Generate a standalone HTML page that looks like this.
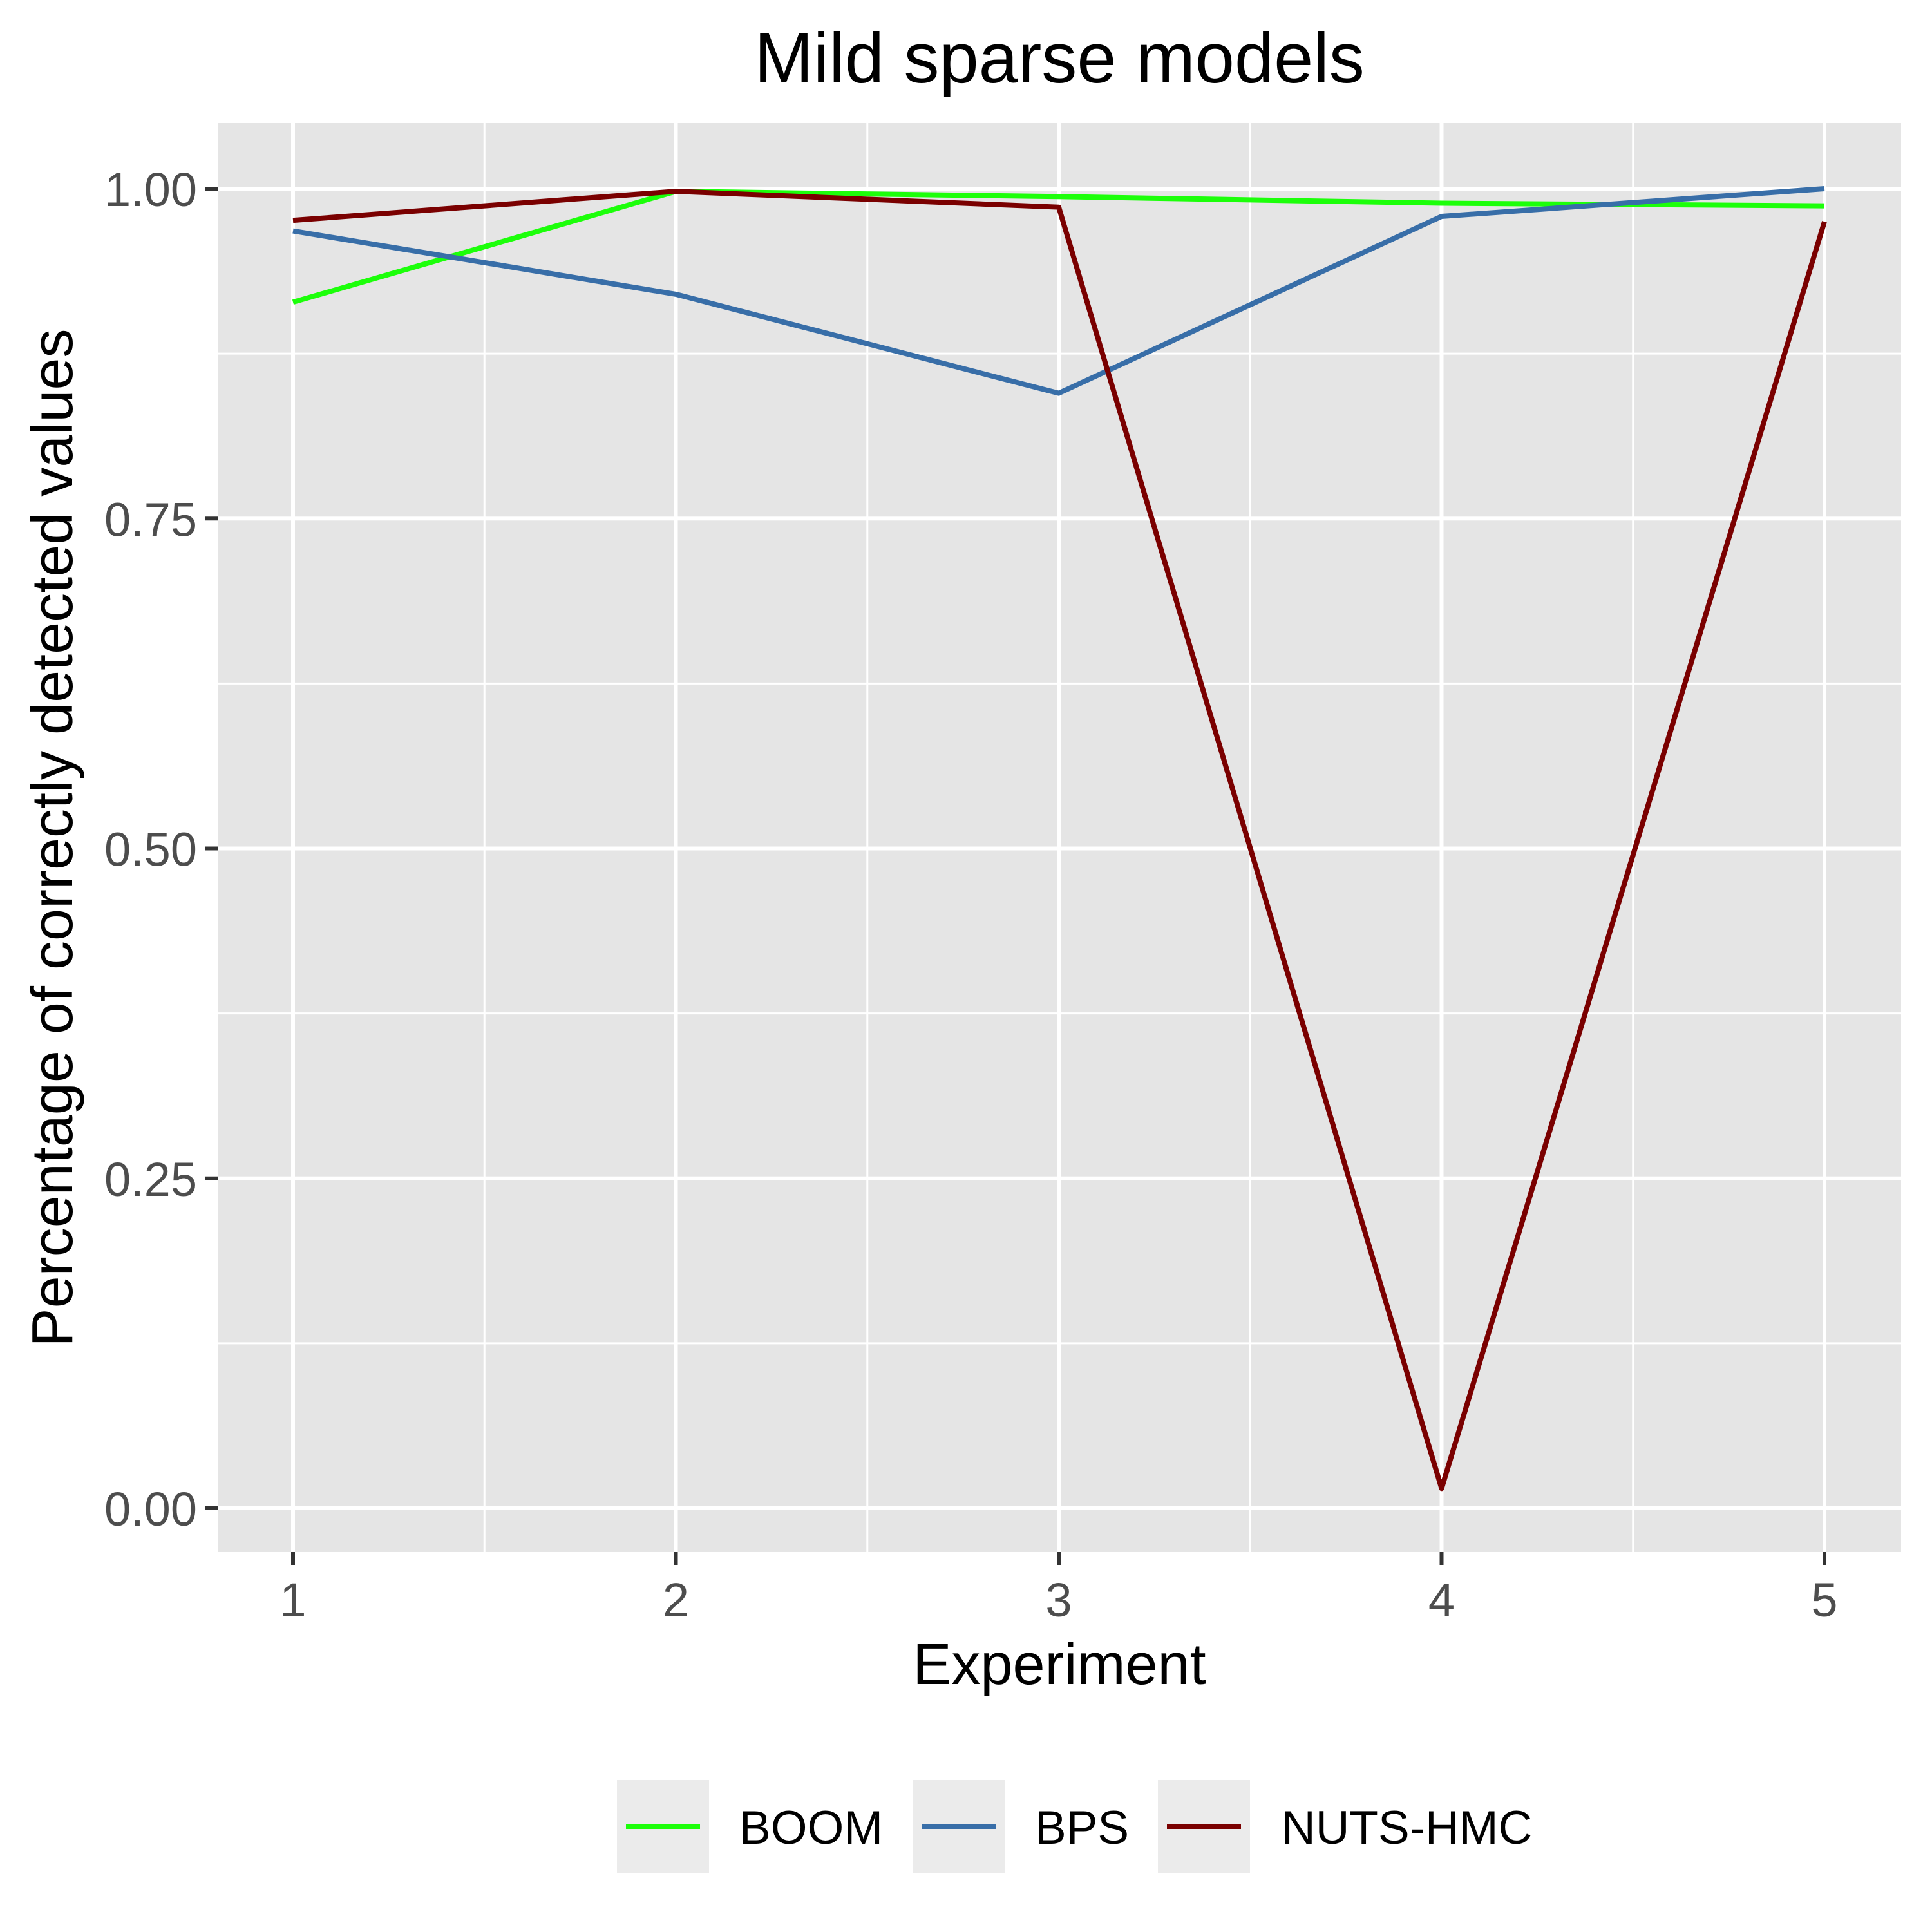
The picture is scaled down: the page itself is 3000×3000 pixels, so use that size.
<!DOCTYPE html>
<html><head><meta charset="utf-8"><style>html,body{margin:0;padding:0;background:#fff}svg{display:block}</style></head>
<body>
<svg id="chart" width="3000" height="3000" viewBox="0 0 3000 3000" xmlns="http://www.w3.org/2000/svg" font-family="Liberation Sans, Arial, sans-serif">
<rect width="3000" height="3000" fill="#fff"/>
<rect x="339" y="191" width="2613" height="2219" fill="#E5E5E5"/>
<g id="grid"></g>
<g id="series"></g>
<g id="axes"></g>
<text x="1645" y="128" font-size="110" text-anchor="middle" fill="#000">Mild sparse models</text>
<text x="1645" y="2615" font-size="90" text-anchor="middle" fill="#000">Experiment</text>
<text transform="translate(112,1301) rotate(-90)" font-size="90" text-anchor="middle" fill="#000">Percentage of correctly detected values</text>
<g id="legend"></g>
</svg>
<script>
const categories = [1, 2, 3, 4, 5];
const boomValues = [0.914, 0.998, 0.994, 0.989, 0.987];
const bpsValues = [0.968, 0.920, 0.845, 0.979, 1.000];
const nutsValues = [0.976, 0.998, 0.986, 0.015, 0.975];
const yTicks = [0, 0.25, 0.5, 0.75, 1.0];
const yTickLabels = ["0.00", "0.25", "0.50", "0.75", "1.00"];
const seriesNames = ["BOOM", "BPS", "NUTS-HMC"];

const NS = "http://www.w3.org/2000/svg";
const X0 = 455, X1 = 2833, Y0 = 2342, Y1 = 293;
const PL = 339, PR = 2952, PT = 191, PB = 2410;
function xs(v){ return X0 + (v - 1) * (X1 - X0) / 4; }
function ys(v){ return Y0 + v * (Y1 - Y0); }
function mk(tag, attrs, parent){ const e = document.createElementNS(NS, tag); for (const k in attrs) e.setAttribute(k, attrs[k]); parent.appendChild(e); return e; }

const grid = document.getElementById('grid');
for (let i = 0; i < yTicks.length - 1; i++) {
  const v = (yTicks[i] + yTicks[i+1]) / 2;
  const l = mk('line', {x1: PL, x2: PR, y1: ys(v), y2: ys(v), stroke: '#fff', 'stroke-width': 3}, grid);
  
  
}
for (let i = 0; i < categories.length - 1; i++) {
  const v = (categories[i] + categories[i+1]) / 2;
  const l = mk('line', {x1: xs(v), x2: xs(v), y1: PT, y2: PB, stroke: '#fff', 'stroke-width': 3}, grid);
  
  
}
yTicks.forEach(v => {
  const l = mk('line', {x1: PL, x2: PR, y1: ys(v), y2: ys(v), stroke: '#fff', 'stroke-width': 6}, grid);
  
  
});
categories.forEach(v => {
  const l = mk('line', {x1: xs(v), x2: xs(v), y1: PT, y2: PB, stroke: '#fff', 'stroke-width': 6}, grid);
  
  
});

const colors = ['#1CFF0A', '#386EA8', '#7A0000'];
const allSeries = [boomValues, bpsValues, nutsValues];
const sg = document.getElementById('series');
allSeries.forEach((vals, si) => {
  const pts = vals.map((v, i) => xs(categories[i]) + ',' + ys(v)).join(' ');
  const p = mk('polyline', {points: pts, fill: 'none', stroke: colors[si], 'stroke-width': 8, 'stroke-linejoin': 'round'}, sg);
  
  
});

const ax = document.getElementById('axes');
yTicks.forEach((v, i) => {
  const t = mk('line', {x1: PL - 20, x2: PL, y1: ys(v), y2: ys(v), stroke: '#333', 'stroke-width': 6}, ax);
  
  
  const tx = mk('text', {x: PL - 33, y: ys(v) + 27, 'font-size': 74, 'text-anchor': 'end', fill: '#4D4D4D'}, ax);
  tx.textContent = yTickLabels[i];
  
  
});
categories.forEach(v => {
  const t = mk('line', {x1: xs(v), x2: xs(v), y1: PB, y2: PB + 20, stroke: '#333', 'stroke-width': 6}, ax);
  
  
  const tx = mk('text', {x: xs(v), y: 2510, 'font-size': 74, 'text-anchor': 'middle', fill: '#4D4D4D'}, ax);
  tx.textContent = String(v);
  
  
});

const lg = document.getElementById('legend');
const keyX = [958, 1418, 1798], textX = [1148, 1607, 1990];
seriesNames.forEach((n, i) => {
  const r = mk('rect', {x: keyX[i], y: 2764, width: 143, height: 144, fill: '#EBEBEB'}, lg);
  
  
  const l = mk('line', {x1: keyX[i] + 14, x2: keyX[i] + 129, y1: 2836, y2: 2836, stroke: colors[i], 'stroke-width': 8}, lg);
  
  
  const t = mk('text', {x: textX[i], y: 2863, 'font-size': 73, fill: '#000'}, lg);
  t.textContent = n;
  
  
});
</script>
</body></html>
